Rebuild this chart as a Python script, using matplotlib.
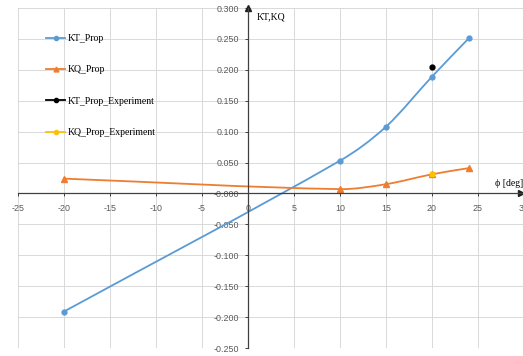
import matplotlib
matplotlib.use("Agg")
import matplotlib.pyplot as plt
from matplotlib.path import Path
from matplotlib.patches import PathPatch
from matplotlib.lines import Line2D
import numpy as np

# data
phi = [-20, 10, 15, 20, 24]
kt_prop = [-0.191, 0.053, 0.108, 0.189, 0.251]
kq_prop = [0.024, 0.007, 0.015, 0.031, 0.041]
phi_exp = [20]
kt_exp = [0.204]
kq_exp = [0.031]

x_ticks = list(range(-25, 31, 5))
y_ticks = [round(v, 3) for v in np.arange(-0.25, 0.301, 0.05)]

KT_COL = "#5B9BD5"
KQ_COL = "#ED7D31"
KQE_COL = "#FFC000"


def smooth_path(xs, ys):
    # smoothed line like Excel: cubic bezier segments through the points
    xs = np.asarray(xs, float)
    ys = np.asarray(ys, float)
    n = len(xs)
    m = np.zeros(n)
    m[0] = (ys[1] - ys[0]) / (xs[1] - xs[0])
    m[-1] = (ys[-1] - ys[-2]) / (xs[-1] - xs[-2])
    for i in range(1, n - 1):
        m[i] = (ys[i + 1] - ys[i - 1]) / (xs[i + 1] - xs[i - 1])
    verts = [(xs[0], ys[0])]
    codes = [Path.MOVETO]
    for i in range(n - 1):
        h = (xs[i + 1] - xs[i]) / 3.0
        verts += [(xs[i] + h, ys[i] + m[i] * h),
                  (xs[i + 1] - h, ys[i + 1] - m[i + 1] * h),
                  (xs[i + 1], ys[i + 1])]
        codes += [Path.CURVE4] * 3
    return Path(verts, codes)


def main():
    fig = plt.figure(figsize=(5.23, 3.56), dpi=100)
    ax = fig.add_axes([18 / 523, 8 / 356, 506 / 523, 340 / 356])
    ax.set_xlim(-25, 30)
    ax.set_ylim(-0.25, 0.30)
    ax.set_xticks(x_ticks)
    ax.set_yticks(y_ticks)
    ax.set_xticklabels([str(v) for v in x_ticks])
    ax.set_yticklabels(["%.3f" % v for v in y_ticks])
    ax.grid(True, color="#D9D9D9", lw=0.7)
    ax.set_axisbelow(True)

    for s in ["top", "right"]:
        ax.spines[s].set_visible(False)
    ax.spines["left"].set_position(("data", 0))
    ax.spines["bottom"].set_position(("data", 0))
    for s in ["left", "bottom"]:
        ax.spines[s].set_color("#404040")
        ax.spines[s].set_linewidth(0.9)
    ax.tick_params(axis="both", direction="out", length=2.2, width=0.7,
                   color="#404040", pad=4.3, labelsize=6.4, labelcolor="#595959")
    ax.tick_params(axis="x", pad=5.2)
    for lab in ax.get_xticklabels() + ax.get_yticklabels():
        lab.set_family("Liberation Sans")

    # axis arrows
    ax.plot([0], [1], marker="^", color="#202020", ms=4,
            transform=ax.get_xaxis_transform(), clip_on=False)
    ax.plot([0.995], [0], marker=">", color="#202020", ms=4,
            transform=ax.get_yaxis_transform(), clip_on=False)

    # smoothed lines
    ax.add_patch(PathPatch(smooth_path(phi, kt_prop), fill=False, ec=KT_COL, lw=1.3))
    ax.add_patch(PathPatch(smooth_path(phi, kq_prop), fill=False, ec=KQ_COL, lw=1.3))
    ax.plot(phi, kt_prop, ls="none", marker="o", ms=3.5, color=KT_COL)
    ax.plot(phi, kq_prop, ls="none", marker="^", ms=4, color=KQ_COL)
    ax.plot(phi_exp, kt_exp, ls="none", marker="o", ms=3.5, color="black")
    ax.plot(phi_exp, kq_exp, ls="none", marker="s", ms=3.5, color=KQE_COL)

    serif = ["Liberation Serif", "DejaVu Serif"]
    ax.text(0.9, 0.285, "KT,KQ", family=serif, fontsize=7, va="center", ha="left")
    ax.text(26.8, 0.016, "\u03d5 [deg]", family=serif, fontsize=7, va="center", ha="left")

    handles = [
        Line2D([], [], color=KT_COL, marker="o", ms=3, lw=1.3),
        Line2D([], [], color=KQ_COL, marker="^", ms=3.5, lw=1.3),
        Line2D([], [], color="black", marker="o", ms=3, lw=1.3),
        Line2D([], [], color=KQE_COL, marker="o", ms=3, lw=1.3),
    ]
    labels = ["KT_Prop", "KQ_Prop", "KT_Prop_Experiment", "KQ_Prop_Experiment"]
    fig.legend(handles, labels, loc="upper left",
               bbox_to_anchor=(46 / 523, 1 - 34 / 356), bbox_transform=fig.transFigure,
               frameon=False, borderpad=0, borderaxespad=0, handlelength=2.0,
               handletextpad=0.2, labelspacing=2.3,
               prop={"family": "Liberation Serif", "size": 7})

    fig.savefig("out.png", dpi=100)


if __name__ == "__main__":
    main()
